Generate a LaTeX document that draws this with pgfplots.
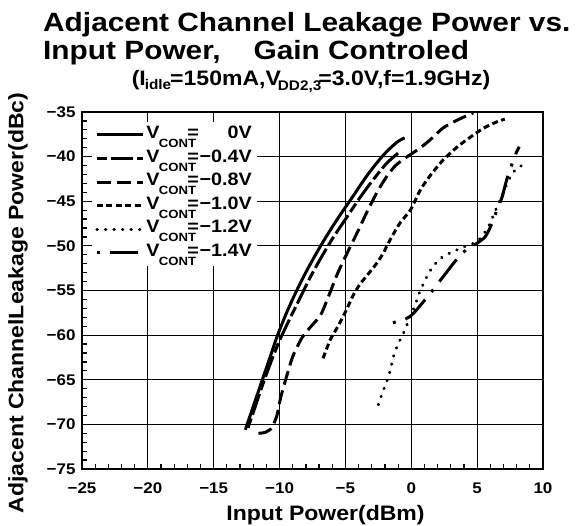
\documentclass[border=0pt]{standalone}
\usepackage{fontspec}
\setmainfont{Liberation Sans}[FakeStretch=1.1]
\newfontfamily\titlefont{Liberation Sans}[FakeStretch=1.13]
\usepackage{pgfplots}
\pgfplotsset{compat=1.18}
\newcommand\vc[1]{V\kern-0.5bp\raisebox{-9bp}{\fontsize{12}{12}\selectfont CONT}\kern-9bp=\makebox[53bp][r]{#1}}
\begin{document}
\begin{tikzpicture}
\useasboundingbox (-82bp,-57bp) rectangle (494bp,469bp);
\begin{axis}[
  at={(0,0)}, anchor=south west,
  scale only axis, width=461bp, height=357bp,
  xmin=-25, xmax=10, ymin=-75, ymax=-35,
  xtick={-25,-20,-15,-10,-5,0,5,10},
  xticklabels={−25,−20,−15,−10,−5,0,5,10},
  ytick={-75,-70,-65,-60,-55,-50,-45,-40,-35},
  yticklabels={−75,−70,−65,−60,−55,−50,−45,−40,−35},
  minor x tick num=4, minor y tick num=4,
  grid=major, major grid style={black, line width=1.2bp},
  axis line style={line width=2.6bp},
  tick align=inside, xtick pos=bottom, ytick pos=left,
  major tick length=8bp, minor tick length=5bp,
  tick style={black, line width=1.2bp},
  ticklabel style={font=\fontsize{15.5}{15.5}\selectfont\bfseries},
  yticklabel style={xshift=-3bp},
  xticklabel style={yshift=-10bp},
  every axis plot/.append style={line width=3bp, black, line join=round},
  legend image code/.code={\draw[#1] (0bp,0bp) -- (46bp,0bp);},
  legend style={at={(axis description cs:0.022,0.972)}, anchor=north west,
    draw=none, fill=white, inner xsep=3bp, inner ysep=1bp,
    font=\fontsize{18}{20}\selectfont\bfseries,
    nodes={inner xsep=2bp, text height=12bp, text depth=5bp, inner ysep=3.3bp},
    cells={anchor=west}},
]
% 0 V
\addplot[smooth, tension=0.5] coordinates {(-12.6,-70.6) (-12.0,-68.0) (-11.4,-65.4) (-10.8,-62.8) (-10.2,-60.2) (-9.5,-57.6) (-8.7,-55.0) (-7.8,-52.4) (-6.8,-49.8) (-5.7,-47.2) (-4.5,-44.6) (-3.3,-42.0) (-2.1,-39.8) (-1.1,-38.4) (-0.5,-37.9)};
\addlegendentry{\vc{0V}}
% -0.4 V
\addplot[smooth, tension=0.5, dash pattern=on 10bp off 4bp on 22bp off 4bp] coordinates {(-12.4,-70.4) (-11.8,-67.8) (-11.2,-65.2) (-10.6,-62.8) (-10.0,-60.6) (-9.3,-58.4) (-8.5,-56.0) (-7.7,-53.6) (-6.8,-51.2) (-5.9,-49.0) (-4.9,-46.8) (-3.9,-44.6) (-2.9,-42.6) (-1.9,-40.8) (-1.0,-39.6)};
\addlegendentry{\vc{−0.4V}}
% -0.8 V
\addplot[smooth, tension=0.4, dash pattern=on 14bp off 6bp] coordinates {(-11.6,-71.0) (-11.1,-70.9) (-10.6,-70.4) (-10.2,-69.0) (-9.9,-66.9) (-9.5,-64.8) (-9.0,-62.4) (-8.3,-60.3) (-7.6,-59.0) (-6.9,-57.8) (-6.4,-56.1) (-5.6,-53.1) (-4.8,-50.6) (-4.0,-48.2) (-3.3,-46.0) (-2.6,-44.0) (-1.9,-42.3) (-1.2,-41.0) (-0.5,-40.2) (0.0,-39.7) (0.7,-39.0) (1.45,-38.1) (2.4,-36.8) (3.5,-35.9) (4.7,-35.1)};
\addlegendentry{\vc{−0.8V}}
% -1.0 V
\addplot[smooth, tension=0.4, dash pattern=on 6bp off 3.5bp] coordinates {(-6.7,-62.6) (-6.15,-60.5) (-5.6,-59.1) (-5.0,-57.4) (-4.4,-55.5) (-3.9,-54.3) (-3.35,-53.3) (-2.7,-52.1) (-2.2,-51.0) (-1.6,-49.3) (-0.84,-47.4) (-0.07,-46.0) (0.7,-43.7) (1.45,-42.1) (2.4,-40.4) (3.5,-38.9) (4.5,-37.8) (5.5,-36.8) (6.5,-36.1) (7.1,-35.8)};
\addlegendentry{\vc{−1.0V}}
% -1.2 V
\addplot[smooth, tension=0.4, line cap=round, dash pattern=on 0.5bp off 8bp] coordinates {(-2.5,-67.8) (-2.2,-66.5) (-1.7,-64.5) (-1.35,-62.4) (-1.0,-61.0) (-0.6,-59.8) (-0.2,-58.4) (0.3,-56.6) (0.6,-55.3) (1.2,-53.4) (1.7,-52.2) (2.4,-51.2) (3.1,-50.7) (4.0,-50.1) (5.0,-49.5) (5.8,-48.0) (6.4,-46.0) (7.0,-44.0) (7.4,-42.6) (7.9,-41.5) (8.8,-40.6)};
\addlegendentry{\vc{−1.2V}}
% -1.4 V
\addplot[smooth, tension=0.4, dash pattern=on 3bp off 10bp on 28bp off 10bp] coordinates {(-1.4,-58.6) (-0.6,-58.3) (0.0,-57.8) (0.5,-57.0) (1.45,-55.3) (2.5,-53.3) (3.4,-51.6) (4.2,-50.4) (5.0,-49.7) (5.6,-49.0) (6.0,-47.9) (6.5,-46.0) (6.9,-44.5) (7.3,-42.3) (7.9,-39.8) (8.2,-38.9)};
\addlegendentry{\vc{−1.4V}}
\end{axis}
\node[anchor=base west, inner sep=0, font=\titlefont\bfseries\fontsize{26.5}{28}\selectfont] at (-39bp,437bp) {Adjacent Channel Leakage Power vs.};
\node[anchor=base west, inner sep=0, font=\titlefont\bfseries\fontsize{26.5}{28}\selectfont] at (-39bp,409bp) {Input Power,\hspace{33bp}Gain Controled};
\node[anchor=base, inner sep=0, font=\fontsize{21}{22}\selectfont\bfseries] at (229bp,383bp) {(I\kern-1bp\raisebox{-4bp}{\fontsize{14}{14}\selectfont idle}\kern-1bp=150mA,V\kern-3bp\raisebox{-5bp}{\fontsize{14}{14}\selectfont DD2,3}\kern-3bp=3.0V,f=1.9GHz)};
\node[anchor=center, rotate=90, inner sep=0, font=\fontsize{21}{22}\selectfont\bfseries] at (-64bp,166bp) {Adjacent ChannelLeakage Power(dBc)};
\node[anchor=base, inner sep=0, font=\fontsize{21}{22}\selectfont\bfseries] at (243.5bp,-51bp) {Input Power(dBm)};
\end{tikzpicture}
\end{document}
